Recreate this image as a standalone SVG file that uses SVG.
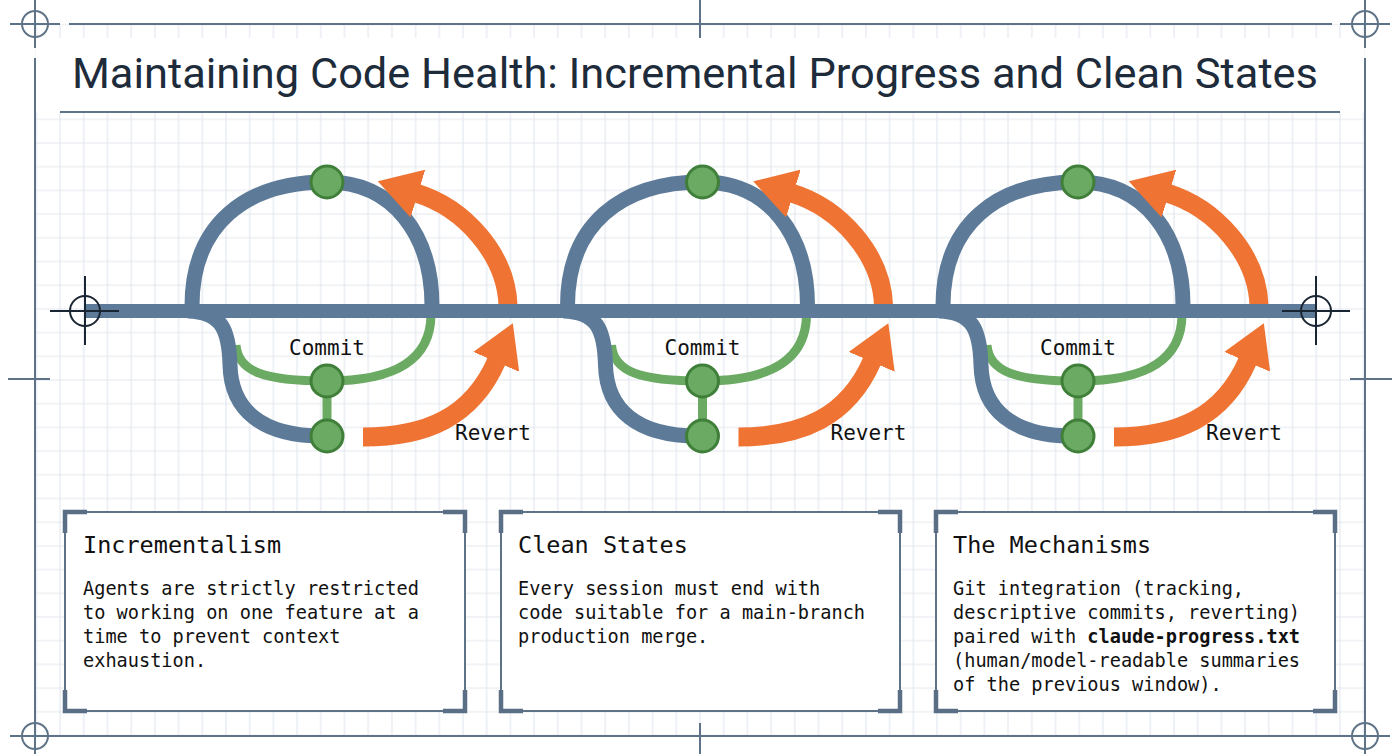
<svg xmlns="http://www.w3.org/2000/svg" width="1400" height="754" viewBox="0 0 1400 754">
  <defs>
    <pattern id="grid" patternUnits="userSpaceOnUse" x="688.15" y="368.15" width="23.7" height="23.7">
      <path d="M11.85 0 V23.7 M0 11.85 H23.7" stroke="#e3e8ee" stroke-width="1.2" fill="none"/>
    </pattern>
    <marker id="ahead" markerUnits="userSpaceOnUse" markerWidth="42" markerHeight="50" viewBox="0 0 42 50" refX="2" refY="25" orient="auto">
      <path d="M0 0 L42 25 L0 50 Z" fill="#ef7332"/>
    </marker>
    <style>
      .frame { stroke: #5f7388; stroke-width: 2; fill: none; }
      .xhair { stroke: #1a2533; stroke-width: 2; fill: none; }
      .blue { stroke: #5d7b99; stroke-width: 15; fill: none; stroke-linecap: butt; }
      .green { stroke: #6aaa62; stroke-width: 9; fill: none; }
      .orange { stroke: #ef7332; stroke-width: 19; fill: none; stroke-linecap: butt; }
      .node { fill: #6aaa62; stroke: #3f7f3a; stroke-width: 3; }
      .lbl { font-family: "DejaVu Sans Mono", "Liberation Mono", monospace; font-size: 21px; fill: #111; }
      .box { fill: #ffffff; stroke: #5f7388; stroke-width: 2; }
      .brk { fill: none; stroke: #5a6e85; stroke-width: 4.5; }
      .bt { font-family: "DejaVu Sans Mono", "Liberation Mono", monospace; font-size: 23.5px; fill: #111; }
      .bb { font-family: "DejaVu Sans Mono", "Liberation Mono", monospace; font-size: 18.6px; fill: #111; }
    </style>
  </defs>

  <rect width="1400" height="754" fill="#ffffff"/>
  <rect x="35" y="24" width="1330" height="712" fill="url(#grid)"/>
  <rect x="36" y="38" width="1328" height="74" fill="#ffffff"/>

  <g id="frame">
    <line class="frame" x1="69" y1="24" x2="1332" y2="24"/>
    <line class="frame" x1="10" y1="24" x2="60" y2="24"/>
    <line class="frame" x1="1340" y1="24" x2="1390" y2="24"/>
    <line class="frame" x1="35" y1="0" x2="35" y2="48"/>
    <line class="frame" x1="1365" y1="0" x2="1365" y2="48"/>
    <line class="frame" x1="35" y1="58" x2="35" y2="754"/>
    <line class="frame" x1="1365" y1="58" x2="1365" y2="754"/>
    <line class="frame" x1="10" y1="736" x2="1390" y2="736"/>
    <circle class="frame" cx="35" cy="24" r="13"/>
    <circle class="frame" cx="1365" cy="24" r="13"/>
    <circle class="frame" cx="35" cy="736" r="13"/>
    <circle class="frame" cx="1365" cy="736" r="13"/>
    <line class="frame" x1="8" y1="379" x2="50" y2="379"/>
    <line class="frame" x1="1350" y1="379" x2="1392" y2="379"/>
    <line class="frame" x1="700" y1="0" x2="700" y2="38"/>
    <line class="frame" x1="700" y1="723" x2="700" y2="754"/>
    <line class="frame" x1="60" y1="112" x2="1340" y2="112"/>
  </g>

  <g id="title">
    <text x="72" y="88" font-family="Roboto, 'Noto Sans', sans-serif" font-size="42" fill="#1d2b3a" textLength="1246" lengthAdjust="spacingAndGlyphs">Maintaining Code Health: Incremental Progress and Clean States</text>
  </g>

  <g id="connectors">
    <g id="loop1-edges">
      <path class="green" d="M236 345 C238 372, 265 381, 327 381 C395 381, 431 360, 431 314"/>
      <path class="blue" d="M192 306 C192 225, 245 182, 327 182 C394 182, 432 236, 432 306"/>
      <path class="blue" d="M188 311 C222 312, 229 330, 230 365 C231 410, 262 436, 322 436"/>
      <path class="orange" d="M508 305 C506 255, 465 208, 416 193" marker-end="url(#ahead)"/>
      <path class="orange" d="M363 437 C425 437, 472 418, 497 360" marker-end="url(#ahead)"/>
      <line class="green" x1="327" y1="381" x2="327" y2="436"/>
    </g>
    <g id="loop2-edges" transform="translate(375.5 0)">
      <path class="green" d="M236 345 C238 372, 265 381, 327 381 C395 381, 431 360, 431 314"/>
      <path class="blue" d="M192 306 C192 225, 245 182, 327 182 C394 182, 432 236, 432 306"/>
      <path class="blue" d="M188 311 C222 312, 229 330, 230 365 C231 410, 262 436, 322 436"/>
      <path class="orange" d="M508 305 C506 255, 465 208, 416 193" marker-end="url(#ahead)"/>
      <path class="orange" d="M363 437 C425 437, 472 418, 497 360" marker-end="url(#ahead)"/>
      <line class="green" x1="327" y1="381" x2="327" y2="436"/>
    </g>
    <g id="loop3-edges" transform="translate(751 0)">
      <path class="green" d="M236 345 C238 372, 265 381, 327 381 C395 381, 431 360, 431 314"/>
      <path class="blue" d="M192 306 C192 225, 245 182, 327 182 C394 182, 432 236, 432 306"/>
      <path class="blue" d="M188 311 C222 312, 229 330, 230 365 C231 410, 262 436, 322 436"/>
      <path class="orange" d="M508 305 C506 255, 465 208, 416 193" marker-end="url(#ahead)"/>
      <path class="orange" d="M363 437 C425 437, 472 418, 497 360" marker-end="url(#ahead)"/>
      <line class="green" x1="327" y1="381" x2="327" y2="436"/>
    </g>
    <line id="mainline" x1="85" y1="311" x2="1316" y2="311" stroke="#5d7b99" stroke-width="14"/>
  </g>

  <g id="start-marker">
    <circle class="xhair" cx="85" cy="311" r="15"/>
    <line class="xhair" x1="50" y1="311" x2="119" y2="311"/>
    <line class="xhair" x1="85" y1="276" x2="85" y2="345"/>
  </g>
  <g id="end-marker">
    <circle class="xhair" cx="1316" cy="311" r="15"/>
    <line class="xhair" x1="1282" y1="311" x2="1350" y2="311"/>
    <line class="xhair" x1="1316" y1="276" x2="1316" y2="345"/>
  </g>

  <g id="loop1-top"><circle class="node" cx="327" cy="182" r="16"/></g>
  <g id="loop1-commit"><circle class="node" cx="327" cy="381" r="16"/></g>
  <g id="loop1-base"><circle class="node" cx="327" cy="436" r="16"/></g>
  <g id="loop2-top"><circle class="node" cx="702.5" cy="182" r="16"/></g>
  <g id="loop2-commit"><circle class="node" cx="702.5" cy="381" r="16"/></g>
  <g id="loop2-base"><circle class="node" cx="702.5" cy="436" r="16"/></g>
  <g id="loop3-top"><circle class="node" cx="1078" cy="182" r="16"/></g>
  <g id="loop3-commit"><circle class="node" cx="1078" cy="381" r="16"/></g>
  <g id="loop3-base"><circle class="node" cx="1078" cy="436" r="16"/></g>

  <g id="labels">
    <text class="lbl" x="327" y="355" text-anchor="middle">Commit</text>
    <text class="lbl" x="702.5" y="355" text-anchor="middle">Commit</text>
    <text class="lbl" x="1078" y="355" text-anchor="middle">Commit</text>
    <text class="lbl" x="455" y="440">Revert</text>
    <text class="lbl" x="830.5" y="440">Revert</text>
    <text class="lbl" x="1206" y="440">Revert</text>
  </g>

  <g id="box-incrementalism">
    <rect class="box" x="65" y="512" width="400" height="199"/>
    <path class="brk" d="M65 533 V512 H87 M443 512 H465 V533 M465 690 V711 H443 M87 711 H65 V690"/>
    <text class="bt" x="83" y="553">Incrementalism</text>
    <text class="bb" x="83" y="595">Agents are strictly restricted</text>
    <text class="bb" x="83" y="619">to working on one feature at a</text>
    <text class="bb" x="83" y="643">time to prevent context</text>
    <text class="bb" x="83" y="667">exhaustion.</text>
  </g>

  <g id="box-clean-states">
    <rect class="box" x="501" y="512" width="399" height="199"/>
    <path class="brk" d="M501 533 V512 H523 M878 512 H900 V533 M900 690 V711 H878 M523 711 H501 V690"/>
    <text class="bt" x="518" y="553">Clean States</text>
    <text class="bb" x="518" y="595">Every session must end with</text>
    <text class="bb" x="518" y="619">code suitable for a main-branch</text>
    <text class="bb" x="518" y="643">production merge.</text>
  </g>

  <g id="box-mechanisms">
    <rect class="box" x="936" y="512" width="399" height="199"/>
    <path class="brk" d="M936 533 V512 H958 M1313 512 H1335 V533 M1335 690 V711 H1313 M958 711 H936 V690"/>
    <text class="bt" x="953" y="553">The Mechanisms</text>
    <text class="bb" x="953" y="595">Git integration (tracking,</text>
    <text class="bb" x="953" y="619">descriptive commits, reverting)</text>
    <text class="bb" x="953" y="643">paired with <tspan font-weight="bold">claude-progress.txt</tspan></text>
    <text class="bb" x="953" y="667">(human/model-readable summaries</text>
    <text class="bb" x="953" y="691">of the previous window).</text>
  </g>
</svg>
